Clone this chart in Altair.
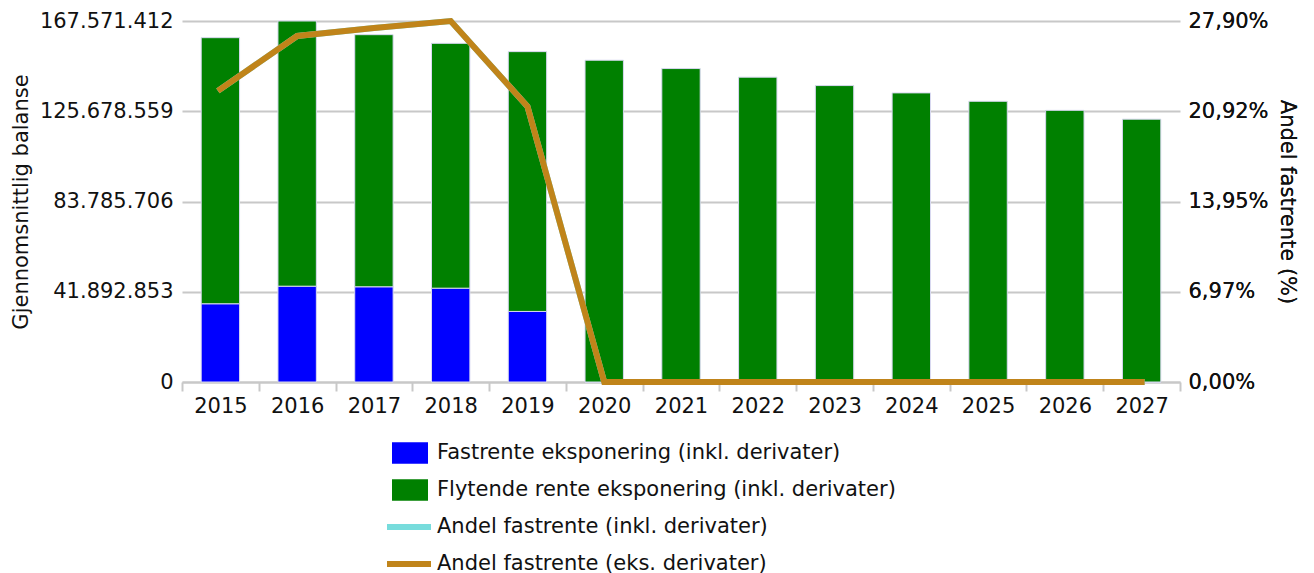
import altair as alt
import pandas as pd

years = [str(y) for y in range(2015, 2028)]
fixed = [36_320_000, 44_470_000, 44_200_000, 43_550_000, 32_750_000, 0, 0, 0, 0, 0, 0, 0, 0]
floating = [123_510_000, 123_101_412, 117_020_000, 113_650_000, 120_600_000, 149_360_000,
            145_500_000, 141_500_000, 137_600_000, 134_200_000, 130_300_000, 126_100_000, 122_000_000]
pct_incl = [22.63, 26.74, 27.36, 27.90, 21.29, 0, 0, 0, 0, 0, 0, 0, 0]
pct_excl = [22.63, 26.74, 27.36, 27.90, 21.29, 0, 0, 0, 0, 0, 0, 0, 0]

bar_series = ["Fastrente eksponering (inkl. derivater)", "Flytende rente eksponering (inkl. derivater)"]
bar_colors = ["#0000ff", "#008000"]
line_series = ["Andel fastrente (inkl. derivater)", "Andel fastrente (eks. derivater)"]
line_colors = ["#77dcdc", "#c0841a"]

left_ticks = [0, 41892853, 83785706, 125678559, 167571412]
left_labels = ["0", "41.892.853", "83.785.706", "125.678.559", "167.571.412"]
right_ticks = [0, 6.975, 13.95, 20.925, 27.90]
right_labels = ["0,00%", "6,97%", "13,95%", "20,92%", "27,90%"]


def label_expr(vals, labs):
    expr = "''"
    for v, l in reversed(list(zip(vals, labs))):
        expr = f"datum.value == {v} ? '{l}' : ({expr})"
    return expr


bar_rows = []
for i, y in enumerate(years):
    bar_rows.append({"year": y, "series": bar_series[0], "value": fixed[i], "ord": 0})
    bar_rows.append({"year": y, "series": bar_series[1], "value": floating[i], "ord": 1})
bar_df = pd.DataFrame(bar_rows)

incl_df = pd.DataFrame({"year": years, "series": line_series[0], "pct": pct_incl})
excl_df = pd.DataFrame({"year": years, "series": line_series[1], "pct": pct_excl})

FONT = "DejaVu Sans"
FS = 21

x_enc = alt.X(
    "year:N",
    sort=years,
    scale=alt.Scale(paddingInner=0, paddingOuter=0),
    axis=alt.Axis(title=None, tickBand="extent", tickSize=9, tickColor="#c8c8c8", tickWidth=2,
                  domainColor="#c8c8c8", domainWidth=2, labelFontSize=FS, labelPadding=4,
                  labelAngle=0, grid=False,
                  labelColor="#111111", labelFont=FONT),
)

bars = alt.Chart(bar_df).mark_bar(
    stroke="#d8d8f0", strokeWidth=1, width=alt.RelativeBandSize(band=0.5)
).encode(
    x=x_enc,
    y=alt.Y(
        "value:Q",
        stack="zero",
        scale=alt.Scale(domain=[0, 167571412], nice=False),
        axis=alt.Axis(
            orient="left", values=left_ticks, labelExpr=label_expr(left_ticks, left_labels),
            title="Gjennomsnittlig balanse", titleFontSize=FS, titleFontWeight="normal",
            titleColor="#111111", titleFont=FONT, titlePadding=8,
            labelFontSize=FS, labelColor="#111111", labelFont=FONT, labelPadding=9,
            ticks=False, domain=False,
            grid=True, gridColor="#c8c8c8", gridWidth=2,
        ),
    ),
    fill=alt.Fill(
        "series:N",
        scale=alt.Scale(domain=bar_series, range=bar_colors),
        legend=alt.Legend(
            title=None, orient="none", legendX=210, legendY=414, direction="vertical",
            symbolType="M-1,-0.6L1,-0.6L1,0.6L-1,0.6Z", symbolSize=1296, symbolStrokeWidth=0,
            labelFontSize=FS, labelFont=FONT, labelColor="#111111", labelOffset=9,
            labelLimit=0, rowPadding=8, symbolOpacity=1,
        ),
    ),
    order=alt.Order("ord:Q"),
)

y_line = alt.Y(
    "pct:Q",
    scale=alt.Scale(domain=[0, 27.9], nice=False),
    axis=alt.Axis(
        orient="right", values=right_ticks, labelExpr=label_expr(right_ticks, right_labels),
        title="Andel fastrente (%)", titleAngle=90, titleFontSize=FS, titleFontWeight="normal",
        titleColor="#111111", titleFont=FONT, titlePadding=8,
        labelFontSize=FS, labelColor="#111111", labelFont=FONT, labelPadding=8,
        ticks=False, domain=False, grid=False,
    ),
)

stroke_enc = alt.Stroke(
    "series:N",
    scale=alt.Scale(domain=line_series, range=line_colors),
    legend=alt.Legend(
        title=None, orient="none", legendX=202, legendY=481, direction="vertical",
        symbolType="stroke", symbolSize=1936, symbolStrokeWidth=6,
        labelFontSize=FS, labelFont=FONT, labelColor="#111111", labelOffset=3,
        labelLimit=0, rowPadding=-12,
    ),
)

line_incl = alt.Chart(incl_df).mark_line(strokeWidth=6, strokeCap="square").encode(
    x=x_enc, y=y_line, stroke=stroke_enc)
line_excl = alt.Chart(excl_df).mark_line(strokeWidth=6, strokeCap="square").encode(
    x=x_enc, y=y_line, stroke=stroke_enc)

chart = (
    alt.layer(bars, line_incl, line_excl)
    .resolve_scale(y="independent")
    .properties(
        width=998, height=361,
        padding={"left": 174, "top": 13, "right": 126, "bottom": 194},
        autosize=alt.AutoSizeParams(type="none"),
    )
    .configure(
        font=FONT,
        view=alt.ViewConfig(stroke="transparent", strokeWidth=0),
    )
)

chart.save("out.html", embed_options={"renderer": "svg", "actions": False})
